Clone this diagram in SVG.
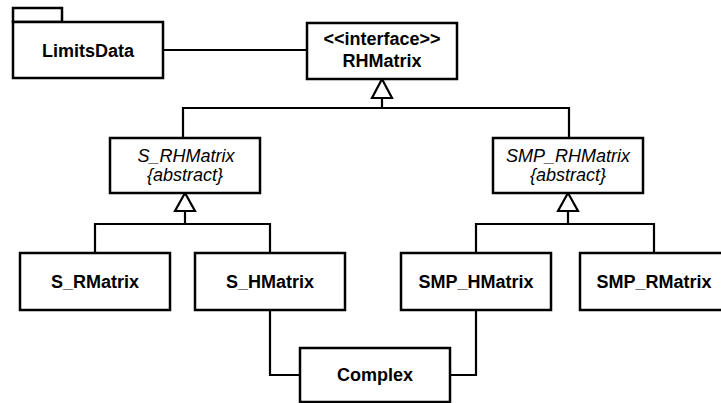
<svg xmlns="http://www.w3.org/2000/svg" width="721" height="403" viewBox="0 0 721 403">
<style>
.box{fill:#fff;stroke:#000;stroke-width:2.5}
.ln{fill:none;stroke:#000;stroke-width:2.2}
.tri{fill:#fff;stroke:#000;stroke-width:2.2;stroke-linejoin:miter}
text{font-family:"Liberation Sans",Arial,sans-serif;font-size:18px;text-anchor:middle;fill:#000}
.b{font-weight:bold}
.i{font-style:italic;font-size:18px}
</style>
<rect width="721" height="403" fill="#fff"/>
<g id="connectors">
<path class="ln" d="M163 50 H307"/>
<path class="ln" d="M382 98 V108 M183 138 V108 H569 V138"/>
<path class="ln" d="M185 211 V224 M95 253 V224 H270 V253"/>
<path class="ln" d="M568 211 V224 M476 253 V224 H654 V253"/>
<path class="ln" d="M270 310 V375 H300"/>
<path class="ln" d="M476 310 V375 H450"/>
<polygon class="tri" points="382,79 372,98 392,98"/>
<polygon class="tri" points="185,193 175,211 195,211"/>
<polygon class="tri" points="568,193 558,211 578,211"/>
</g>
<g id="LimitsData">
<rect class="box" x="13" y="8" width="49" height="14"/>
<rect class="box" x="13" y="22" width="150" height="56"/>
<text class="b" x="88" y="56.5">LimitsData</text>
</g>
<g id="RHMatrix">
<rect class="box" x="307" y="23" width="150" height="56"/>
<text class="b" x="382" y="45">&lt;&lt;interface&gt;&gt;</text>
<text class="b" x="382" y="66.5">RHMatrix</text>
</g>
<g id="S_RHMatrix">
<rect class="box" x="110" y="138" width="150" height="55"/>
<text class="i" x="186" y="161.5">S_RHMatrix</text>
<text class="i" x="185" y="181">{abstract}</text>
</g>
<g id="SMP_RHMatrix">
<rect class="box" x="493" y="138" width="150" height="55"/>
<text class="i" x="568" y="161.5">SMP_RHMatrix</text>
<text class="i" x="568" y="181">{abstract}</text>
</g>
<g id="S_RMatrix">
<rect class="box" x="20" y="253" width="150" height="57"/>
<text class="b" x="95" y="288">S_RMatrix</text>
</g>
<g id="S_HMatrix">
<rect class="box" x="195" y="253" width="150" height="57"/>
<text class="b" x="270" y="288">S_HMatrix</text>
</g>
<g id="SMP_HMatrix">
<rect class="box" x="401" y="253" width="150" height="57"/>
<text class="b" x="476" y="288">SMP_HMatrix</text>
</g>
<g id="SMP_RMatrix">
<rect class="box" x="580" y="253" width="150" height="57"/>
<text class="b" x="654" y="288">SMP_RMatrix</text>
</g>
<g id="Complex">
<rect class="box" x="300" y="348" width="150" height="54"/>
<text class="b" x="375" y="381">Complex</text>
</g>
</svg>
